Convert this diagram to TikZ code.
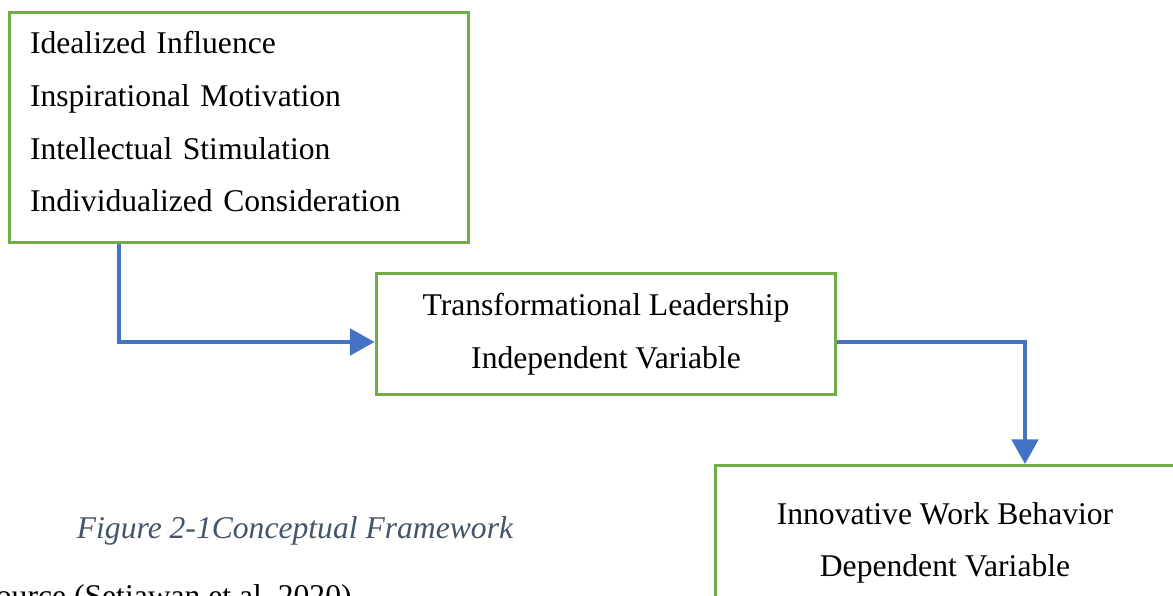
\documentclass[tikz,border=0pt]{standalone}
\usepackage{fontspec}
\setmainfont{Liberation Serif}
\usetikzlibrary{arrows.meta}

\definecolor{boxgreen}{HTML}{70AD47}
\definecolor{arrowblue}{HTML}{4472C4}
\definecolor{captiongray}{HTML}{44546A}

\tikzset{
    varbox/.style={draw=boxgreen, line width=1.7pt, minimum width=9.2cm, font=\fontsize{18}{30}\selectfont},
    link/.style={draw=arrowblue, line width=2.2pt, -{Triangle[length=14pt,width=15pt]}}
}

\begin{document}
\begin{tikzpicture}[x=0.02cm, y=-0.02cm]
            \clip (0, 0) rectangle (1173, 595);

            \coordinate (A) at (119, 342);
            \coordinate (B) at (1025, 342);

            \node[varbox, minimum height=4.62cm, text width=8.36cm, inner xsep=0.42cm, align=left] (DIMS) at (239, 127.5)
                { Idealized Influence\\ Inspirational Motivation\\ Intellectual Stimulation\\ Individualized Consideration\rule[-6.5pt]{0pt}{1pt} };
            \node[varbox, minimum height=2.44cm, align=center] (TL) at (606, 334)
                { Transformational Leadership\\ Independent Variable };
            \node[varbox, minimum height=3.1cm, align=center] (IWB) at (945, 543)
                { Innovative Work Behavior\\ Dependent Variable };

            \draw[link] (DIMS.south -| A) -- (A) -- (A -| TL.west);
            \draw[link] (B -| TL.east) -- (B) -- (B |- IWB.north);

            \node[text=captiongray, font=\fontsize{18}{20}\selectfont\itshape] (CAP) at (295, 531) { Figure 2-1Conceptual Framework };
            \node[anchor=base west, inner sep=0pt, font=\fontsize{18}{20}\selectfont] (SRC) at (-22, 606) { Source (Setiawan et al, 2020) };

        \end{tikzpicture}
\end{document}
